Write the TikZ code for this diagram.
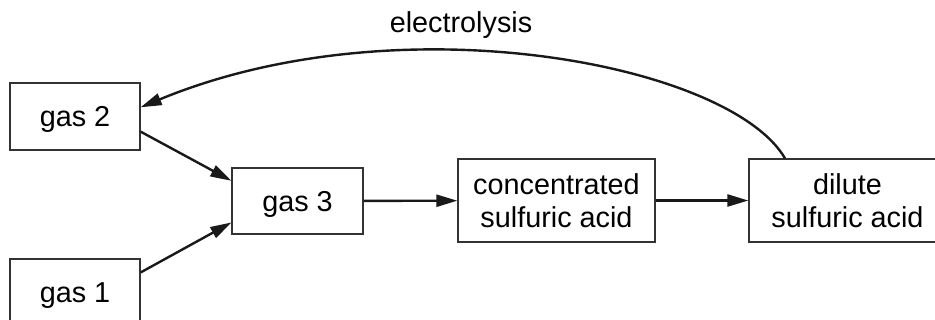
\documentclass[tikz,border=0pt]{standalone}
\usepackage{fontspec}
\setmainfont{Liberation Sans}
\usepackage{tikz}
\usetikzlibrary{arrows.meta,shapes}

\begin{document}
\begin{tikzpicture}[box/.style={draw=black!80,line width=1.3bp,rectangle,inner sep=0pt,align=center,font=\fontsize{28.8bp}{33bp}\selectfont},
gasbox/.style={box,minimum width=130bp,minimum height=67bp,text depth=0pt},
arr/.style={-{Triangle[length=21bp,width=12bp]},line width=2.4bp,draw=black!90}]
\useasboundingbox (0bp,0bp) rectangle (935bp,-320bp);
\node (gas2) at (75bp,-116.5bp)[gasbox] {gas 2};
\node (gas1) at (75bp,-292.5bp)[gasbox] {gas 1};
\node (gas3) at (297.5bp,-201bp)[gasbox,minimum width=131bp,minimum height=66bp] {gas 3};
\node (conc) at (556.5bp,-200.5bp)[box,minimum width=197bp,minimum height=83bp] {concentrated\\sulfuric acid};
\node (dil) at (847.5bp,-200.5bp)[box,minimum width=197bp,minimum height=83bp] {dilute\\sulfuric acid};
\node (elec) at (461bp,-32bp)[anchor=base,font=\fontsize{28.8bp}{33bp}\selectfont] {electrolysis};
\draw [arr] (gas2.-13.4) -- (gas3.163.8);
\draw [arr] (gas1.17.5) -- (gas3.-162.2);
\draw [arr] (gas3) -- (conc);
\draw [arr] (conc) -- (dil);
\draw [arr] (dil.146.8) .. controls (730bp,-64bp) and (400bp,0bp) .. (gas2.8.3);
\end{tikzpicture}
\end{document}
